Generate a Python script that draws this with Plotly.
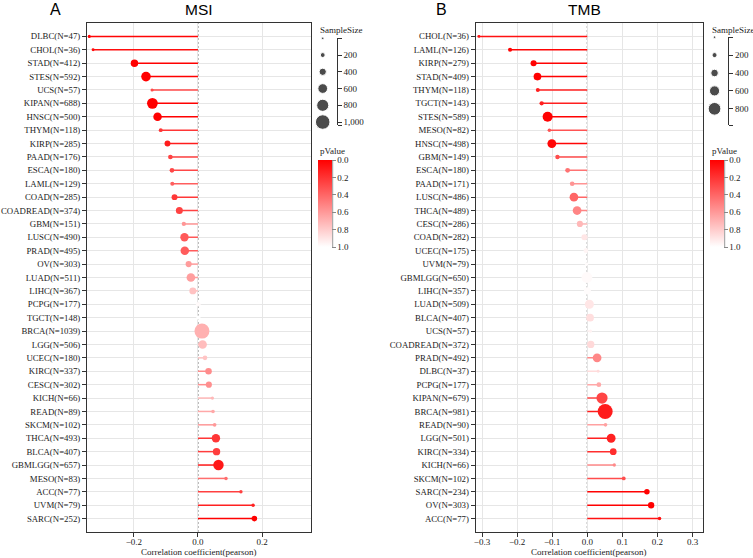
import plotly.graph_objects as go

W, H = 753, 558

# ---------------- data ----------------
msi_names = ["DLBC","CHOL","STAD","STES","UCS","KIPAN","HNSC","THYM","KIRP","PAAD","ESCA","LAML",
             "COAD","COADREAD","GBM","LUSC","PRAD","OV","LUAD","LIHC","PCPG","TGCT","BRCA","LGG",
             "UCEC","KIRC","CESC","KICH","READ","SKCM","THCA","BLCA","GBMLGG","MESO","ACC","UVM","SARC"]
msi_n = [47,36,412,592,57,688,500,118,285,176,180,129,285,374,151,490,495,303,511,367,177,148,1039,506,
         180,337,302,66,89,102,493,407,657,83,77,79,252]
msi_r = [-0.339,-0.327,-0.198,-0.162,-0.143,-0.142,-0.126,-0.116,-0.095,-0.086,-0.081,-0.080,
         -0.073,-0.058,-0.044,-0.042,-0.041,-0.029,-0.022,-0.016,0.001,0.0015,0.0125,0.0145,
         0.022,0.033,0.034,0.045,0.047,0.052,0.056,0.058,0.064,0.0875,0.134,0.172,0.176]
msi_p = [0.02,0.05,0.0,0.0,0.29,0.0,0.005,0.21,0.11,0.26,0.28,0.37,
         0.22,0.26,0.59,0.35,0.36,0.61,0.62,0.76,0.98,1.0,0.69,0.74,
         0.77,0.55,0.56,0.72,0.66,0.6,0.21,0.24,0.10,0.43,0.25,0.13,0.005]

tmb_names = ["CHOL","LAML","KIRP","STAD","THYM","TGCT","STES","MESO","HNSC","GBM","ESCA","PAAD",
             "LUSC","THCA","CESC","COAD","UCEC","UVM","GBMLGG","LIHC","LUAD","BLCA","UCS","COADREAD",
             "PRAD","DLBC","PCPG","KIPAN","BRCA","READ","LGG","KIRC","KICH","SKCM","SARC","OV","ACC"]
tmb_n = [36,126,279,409,118,143,589,82,498,149,180,171,486,489,286,282,175,79,650,357,509,407,57,372,
         492,37,177,679,981,90,501,334,66,102,234,303,77]
tmb_r = [-0.309,-0.220,-0.153,-0.142,-0.141,-0.130,-0.113,-0.108,-0.101,-0.085,-0.056,-0.043,
         -0.038,-0.029,-0.021,-0.008,-0.004,-0.002,-0.001,0.0005,0.006,0.008,0.009,0.010,
         0.028,0.031,0.033,0.042,0.051,0.052,0.068,0.074,0.077,0.104,0.170,0.182,0.206]
tmb_p = [0.07,0.013,0.01,0.004,0.13,0.12,0.006,0.33,0.024,0.30,0.45,0.58,
         0.40,0.52,0.72,0.90,0.96,0.99,0.98,0.99,0.90,0.87,0.95,0.85,
         0.53,0.86,0.66,0.27,0.11,0.63,0.13,0.18,0.54,0.30,0.009,0.0015,0.07]

size_legend_vals = [0, 200, 400, 600, 800, 1000]
msi_size_ticks = [200, 400, 600, 800, 1000]
tmb_size_ticks = [200, 400, 600, 800]
p_ticks = [0.0, 0.2, 0.4, 0.6, 0.8, 1.0]

SERIF = "Liberation Serif, Times New Roman, serif"
SANS = "Liberation Sans, Arial, sans-serif"
AX = "#333333"
GRID = "#e6e6e6"

def px(x):
    return x / W

def py(y):
    return 1 - y / H

def pcolor(p):
    v = int(round(255 * p))
    return f"rgb(255,{v},{v})"

def dia(n, nmax):
    return 2.5 + 12.5 * n / nmax

fig = go.Figure()

panels = [
    dict(names=msi_names, n=msi_n, r=msi_r, p=msi_p, xa="x", ya="y", ca="coloraxis"),
    dict(names=tmb_names, n=tmb_n, r=tmb_r, p=tmb_p, xa="x2", ya="y2", ca="coloraxis2"),
]

for pan in panels:
    labels = [f"{a}(N={b})" for a, b in zip(pan["names"], pan["n"])]
    pan["labels"] = labels
    nmax = max(pan["n"])
    for lab, r, p in zip(labels, pan["r"], pan["p"]):
        fig.add_trace(go.Scatter(x=[0, r], y=[lab, lab], mode="lines",
                                 line=dict(color=pcolor(p), width=1.5),
                                 xaxis=pan["xa"], yaxis=pan["ya"], showlegend=False,
                                 hoverinfo="skip"))
    fig.add_trace(go.Scatter(x=pan["r"], y=labels, mode="markers",
                             marker=dict(size=[dia(n, nmax) for n in pan["n"]],
                                         color=[1 - p for p in pan["p"]],
                                         coloraxis=pan["ca"], line=dict(width=0), opacity=1),
                             xaxis=pan["xa"], yaxis=pan["ya"], showlegend=False))

# sample size legends
fig.add_trace(go.Scatter(x=[0.41] * len(size_legend_vals), y=size_legend_vals, mode="markers",
                         marker=dict(size=[dia(v, max(msi_n)) for v in size_legend_vals], color="black"),
                         xaxis="x3", yaxis="y3", showlegend=False, cliponaxis=False))
fig.add_trace(go.Scatter(x=[0.41] * len(size_legend_vals), y=size_legend_vals, mode="markers",
                         marker=dict(size=[dia(v, max(tmb_n)) for v in size_legend_vals], color="black"),
                         xaxis="x4", yaxis="y4", showlegend=False, cliponaxis=False))

def main_x(domain, rng, dtick):
    return dict(domain=domain, range=rng, dtick=dtick, tick0=0, tickformat=".1f",
                showline=True, mirror=True, linecolor=AX, linewidth=1,
                ticks="outside", ticklen=4, tickcolor=AX, tickwidth=1,
                ticklabelstandoff=-3,
                showgrid=True, gridcolor=GRID, gridwidth=1, zeroline=False,
                tickfont=dict(family=SERIF, size=9, color="#222"), automargin=False)

def main_y(domain, labels, anchor):
    return dict(domain=domain, type="category", categoryorder="array", categoryarray=labels,
                range=[37, -1], anchor=anchor,
                showline=True, mirror=True, linecolor=AX, linewidth=1,
                ticks="outside", ticklen=4, tickcolor=AX, tickwidth=1,
                showgrid=True, gridcolor=GRID, gridwidth=1, zeroline=False,
                tickfont=dict(family=SERIF, size=8.8, color="#222"), automargin=False)

ydom = [py(532), py(23)]

def leg_y(domain, rng, ticks, anchor):
    return dict(domain=domain, range=rng, anchor=anchor, side="right",
                showline=True, linecolor=AX, linewidth=1,
                tickmode="array", tickvals=ticks, tickformat=",",
                ticks="outside", ticklen=4, tickcolor=AX,
                minor=dict(tickmode="array", tickvals=[0, rng[0]], ticks="outside", ticklen=4,
                           tickcolor=AX, showgrid=False),
                showgrid=False, zeroline=False,
                tickfont=dict(family=SERIF, size=9, color="#222"), automargin=False)

def cbar(x_left):
    return dict(x=px(x_left), xanchor="left", xpad=0, y=py(160), yanchor="top", ypad=0,
                len=87, lenmode="pixels", thickness=14.4, thicknessmode="pixels",
                outlinewidth=0, tickmode="array", tickvals=[1 - v for v in p_ticks],
                ticktext=[f"{v:.1f}" for v in p_ticks], ticks="outside", ticklen=4,
                tickcolor="#888", tickfont=dict(family=SERIF, size=9, color="#222"))

cscale = [[0, "rgb(255,255,255)"], [1, "rgb(255,0,0)"]]

fig.update_layout(
    width=W, height=H, margin=dict(l=0, r=0, t=0, b=0),
    paper_bgcolor="white", plot_bgcolor="white",
    xaxis=main_x([px(87), px(310.5)], [-0.346, 0.351], 0.2),
    yaxis=main_y(ydom, panels[0]["labels"], "x"),
    xaxis2=main_x([px(475.7), px(702.7)], [-0.318, 0.329], 0.1),
    yaxis2=main_y(ydom, panels[1]["labels"], "x2"),
    xaxis3=dict(domain=[px(313), px(336.7)], range=[0, 1], visible=False, anchor="y3"),
    yaxis3=leg_y([py(125.3), py(38.3)], [max(msi_n), 0], msi_size_ticks, "x3"),
    xaxis4=dict(domain=[px(705), px(728.3)], range=[0, 1], visible=False, anchor="y4"),
    yaxis4=leg_y([py(125), py(37.2)], [max(tmb_n), 0], tmb_size_ticks, "x4"),
    coloraxis=dict(cmin=0, cmax=1, colorscale=cscale, colorbar=cbar(318.3)),
    coloraxis2=dict(cmin=0, cmax=1, colorscale=cscale, colorbar=cbar(710.3)),
)
fig.update_layout(xaxis_anchor="y", xaxis2_anchor="y2")

# zero dashed lines
for xa in ["x", "x2"]:
    fig.add_shape(type="line", xref=xa, yref=f"{'y' if xa == 'x' else 'y2'} domain",
                  x0=0, x1=0, y0=0, y1=1, line=dict(color="#666", width=1, dash="2px,2px"),
                  layer="below")

# colorbar right edge lines
for xr in [332.7, 724.7]:
    fig.add_shape(type="line", xref="paper", yref="paper", x0=px(xr), x1=px(xr),
                  y0=py(160), y1=py(247), line=dict(color="#999", width=1))

ann = [
    dict(text="A", x=55, y=10, font=dict(family=SANS, size=16, color="black")),
    dict(text="MSI", x=198.5, y=10, font=dict(family=SANS, size=15.5, color="black")),
    dict(text="B", x=441, y=10, font=dict(family=SANS, size=16, color="black")),
    dict(text="TMB", x=584, y=10, font=dict(family=SANS, size=15.5, color="black")),
    dict(text="Correlation coefficient(pearson)", x=198.5, y=552, font=dict(family=SERIF, size=9, color="#222")),
    dict(text="Correlation coefficient(pearson)", x=589, y=552, font=dict(family=SERIF, size=9, color="#222")),
]
for a in ann:
    fig.add_annotation(text=a["text"], x=px(a["x"]), y=py(a["y"]), xref="paper", yref="paper",
                       showarrow=False, xanchor="center", yanchor="middle", font=a["font"])
for xl in [318, 710]:
    fig.add_annotation(text="SampleSize", x=px(xl), y=py(30), xref="paper", yref="paper",
                       showarrow=False, xanchor="left", yanchor="middle",
                       font=dict(family=SERIF, size=9, color="#222"))
    fig.add_annotation(text="pValue", x=px(xl), y=py(150.5), xref="paper", yref="paper",
                       showarrow=False, xanchor="left", yanchor="middle",
                       font=dict(family=SERIF, size=9, color="#222"))

fig.write_html("out.html", config={"displayModeBar": False},
               post_script="document.body.style.margin='0';document.body.style.padding='0';")
